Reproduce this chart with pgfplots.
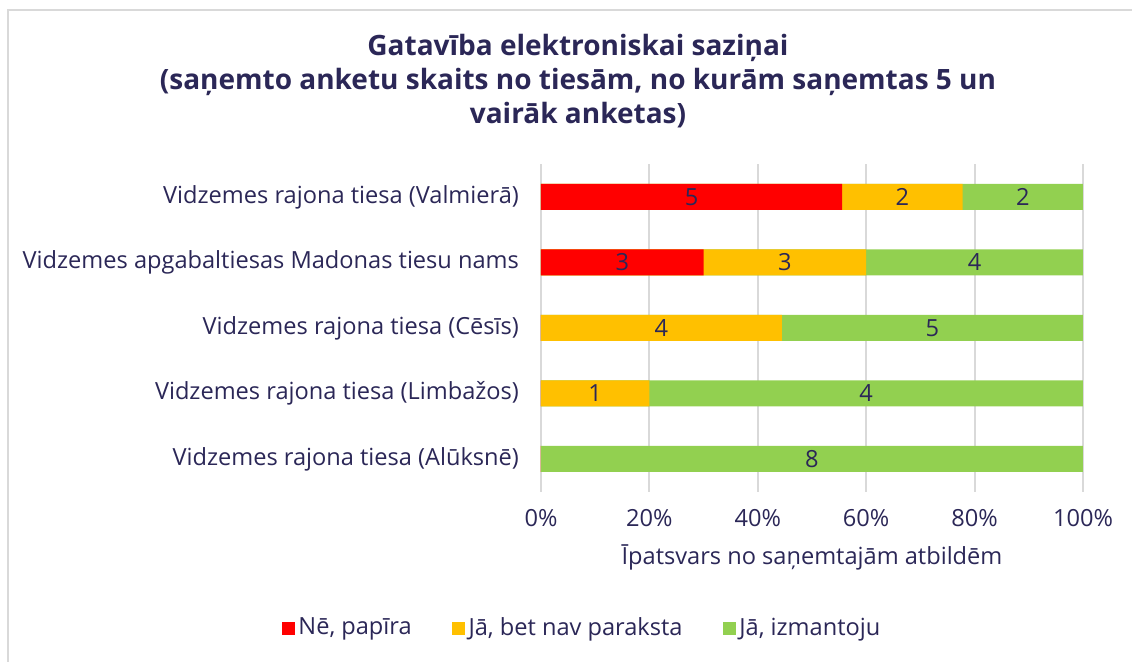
\documentclass[border=0pt]{standalone}
\usepackage{fontspec}
\setmainfont{Open Sans}
\usepackage{pgfplots}
\usepackage{pgfplotstable}
\pgfplotsset{compat=1.18}
\definecolor{txt}{RGB}{43,39,87}
\definecolor{gridc}{RGB}{217,217,217}
\definecolor{cred}{RGB}{255,0,0}
\definecolor{cyel}{RGB}{255,192,0}
\definecolor{cgrn}{RGB}{146,208,80}
\pgfplotstableread{
idx ne jb ja
0 5 2 2
1 3 3 4
2 0 4 5
3 0 1 4
4 0 0 8
}\data
\begin{document}
\begin{tikzpicture}
\path[use as bounding box] (0pt,0pt) rectangle (566pt,331pt);
\draw[line width=1pt, gridc] (4pt,0pt) -- (4pt,326pt) -- (566pt,326pt);
\node[font=\bfseries\fontsize{14}{17}\selectfont, text=txt, align=center] at (289pt,290.5pt)
  {Gatavība elektroniskai saziņai\\(saņemto anketu skaits no tiesām, no kurām saņemtas 5 un\\vairāk anketas)};
\begin{axis}[
  at={(406pt,167pt)}, anchor=center,
  scale only axis, width=271pt, height=163.75pt,
  xmin=0, xmax=100, ymin=-0.5, ymax=4.5, y dir=reverse,
  xbar, bar shift=0pt, bar width=13pt,
  axis line style={draw=none},
  major tick length=0pt,
  xtick={0,20,40,60,80,100},
  xticklabels={0\%,20\%,40\%,60\%,80\%,100\%},
  ytick={0,1,2,3,4},
  yticklabels={Vidzemes rajona tiesa (Valmierā),Vidzemes apgabaltiesas Madonas tiesu nams,Vidzemes rajona tiesa (Cēsīs),Vidzemes rajona tiesa (Limbažos),Vidzemes rajona tiesa (Alūksnē)},
  xmajorgrids, grid style={color=gridc, line width=1pt},
  tick label style={font=\fontsize{11.8}{14}\selectfont, text=txt},
  yticklabel style={xshift=-7.5pt},
  xticklabel style={yshift=-5.5pt},
  xlabel={Īpatsvars no saņemtajām atbildēm},
  xlabel style={font=\fontsize{11.8}{14}\selectfont, text=txt, yshift=-2pt},
  /pgf/number format/assume math mode=true,
  legend style={at={(0.0775,-0.416)}, anchor=center, draw=none, legend columns=3,
    font=\fontsize{11.8}{14}\selectfont, text=txt,
    /tikz/every even column/.append style={column sep=18pt}},
  legend image code/.code={\fill[#1] (0pt,-3pt) rectangle (6pt,3pt);},
]
\addlegendimage{cred}
\addlegendentry{Nē, papīra}
\addlegendimage{cyel}
\addlegendentry{Jā, bet nav paraksta}
\addlegendimage{cgrn}
\addlegendentry{Jā, izmantoju}
\addplot[fill=cgrn, draw=none, forget plot] table[y=idx, x expr={(\thisrow{ne}+\thisrow{jb}+\thisrow{ja})/(\thisrow{ne}+\thisrow{jb}+\thisrow{ja})*100}]{\data};
\addplot[fill=cyel, draw=none, forget plot] table[y=idx, x expr={(\thisrow{ne}+\thisrow{jb})/(\thisrow{ne}+\thisrow{jb}+\thisrow{ja})*100}]{\data};
\addplot[fill=cred, draw=none, forget plot] table[y=idx, x expr={\thisrow{ne}/(\thisrow{ne}+\thisrow{jb}+\thisrow{ja})*100}]{\data};
\pgfplotsset{lbl/.style={draw=none, fill=none, forget plot, point meta=explicit,
  nodes near coords={\pgfmathfloatifflags{\pgfplotspointmeta}{0}{}{\pgfmathprintnumber{\pgfplotspointmeta}}},
  nodes near coords align=center,
  every node near coord/.append style={anchor=center, font=\fontsize{11.8}{14}\selectfont, text=txt}}}
\addplot[lbl] table[y=idx, x expr={0.5*\thisrow{ne}/(\thisrow{ne}+\thisrow{jb}+\thisrow{ja})*100}, meta=ne]{\data};
\addplot[lbl] table[y=idx, x expr={(\thisrow{ne}+0.5*\thisrow{jb})/(\thisrow{ne}+\thisrow{jb}+\thisrow{ja})*100}, meta=jb]{\data};
\addplot[lbl] table[y=idx, x expr={(\thisrow{ne}+\thisrow{jb}+0.5*\thisrow{ja})/(\thisrow{ne}+\thisrow{jb}+\thisrow{ja})*100}, meta=ja]{\data};
\end{axis}
\end{tikzpicture}
\end{document}
